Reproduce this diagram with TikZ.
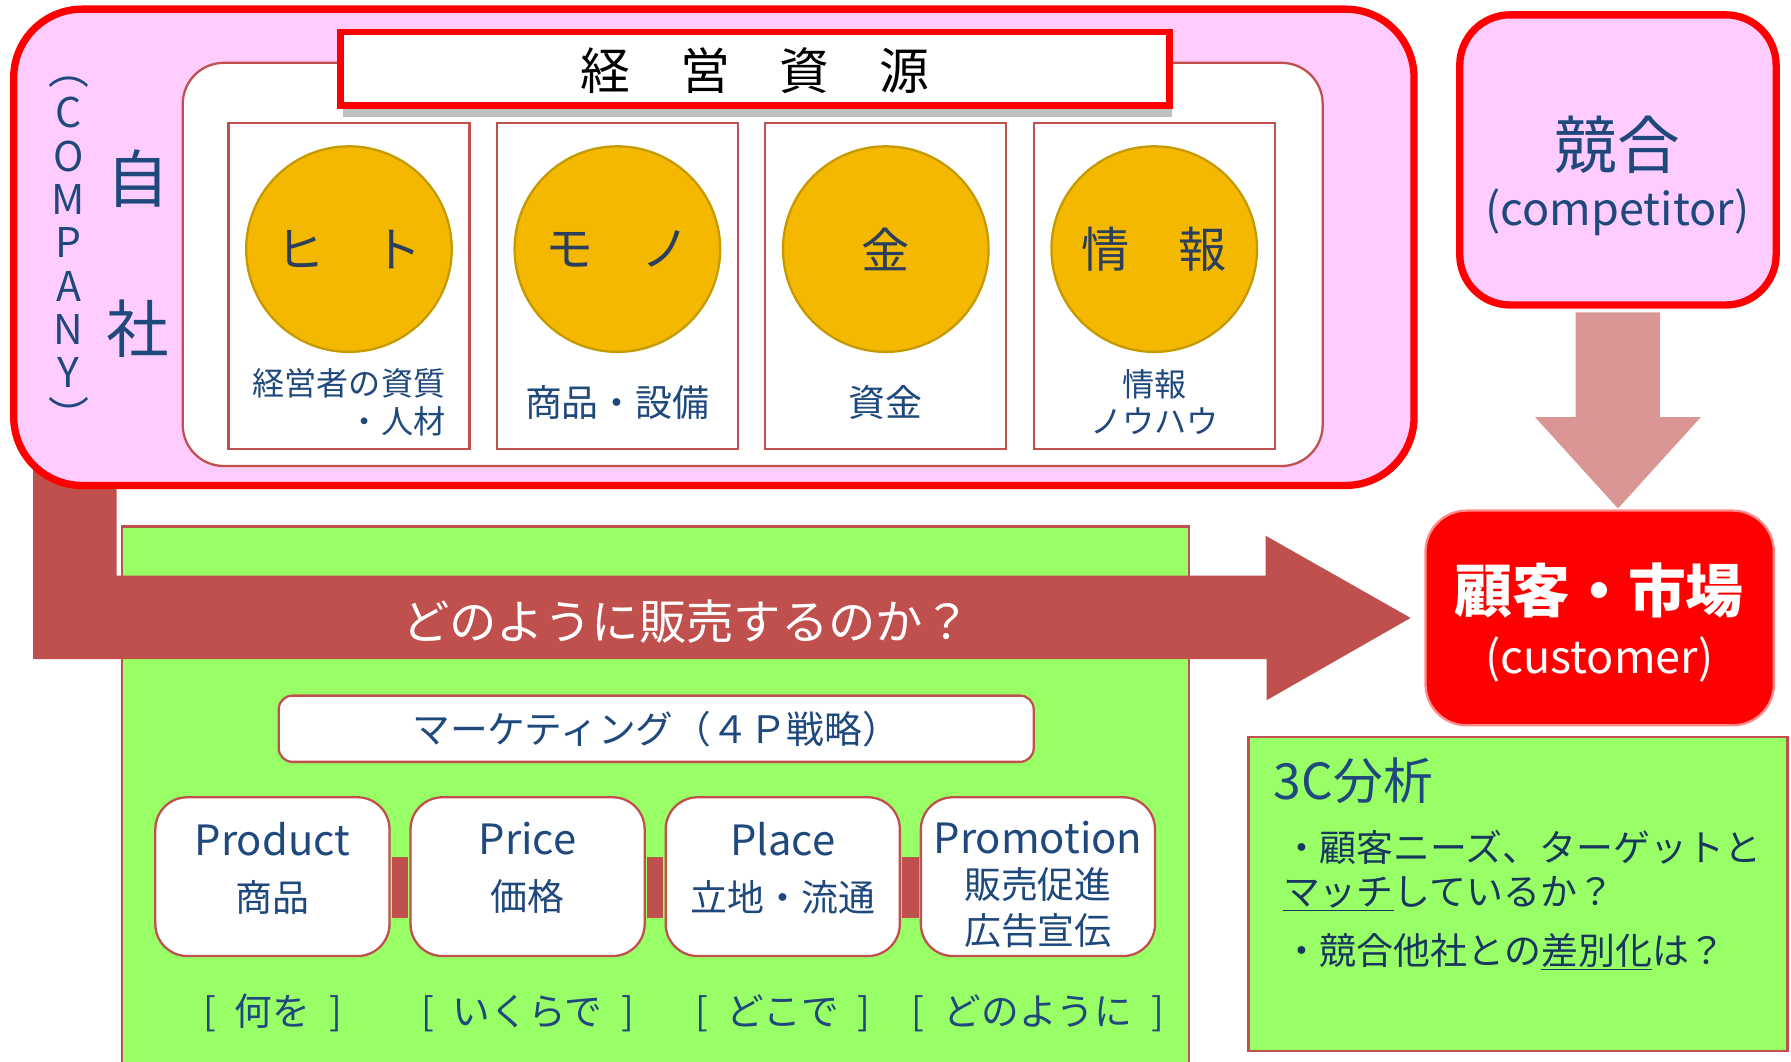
\documentclass[tikz,border=0pt]{standalone}
\usepackage{fontspec}
\setmainfont{Noto Sans CJK JP}
\usetikzlibrary{positioning, shadows, fit}

\definecolor{pinkfill}{HTML}{FFCCFF}
\definecolor{brick}{HTML}{C0504D}
\definecolor{leaf}{HTML}{99FF66}
\definecolor{textblue}{HTML}{1F497D}
\definecolor{darkink}{HTML}{17375E}
\definecolor{coinfill}{HTML}{F4B800}
\definecolor{coinedge}{HTML}{C49A00}
\definecolor{coinink}{HTML}{2B3F5C}
\definecolor{rosy}{HTML}{D99694}

\newcommand{\enword}[1]{{\fontsize{26}{35}\selectfont #1}}

\begin{document}
\begin{tikzpicture}[x=0.25mm, y=-0.25mm,
    redframe/.style={draw=red, line width=1.6mm},
    thinframe/.style={draw=brick, line width=0.5mm},
    bigchar/.style={text=textblue, font=\fontsize{39}{39}\selectfont},
    resbox/.style={rectangle, thinframe, fill=white, minimum width=52.75mm, minimum height=71.25mm},
    coin/.style={circle, fill=coinfill, draw=coinedge, line width=0.5mm, minimum size=45mm, text=coinink, font=\fontsize{30}{30}\selectfont},
    note/.style={text=textblue, align=center, font=\fontsize{23}{23.5}\selectfont},
    pbox/.style={rectangle, rounded corners=7mm, thinframe, fill=white, minimum width=51.25mm, minimum height=34.75mm},
    ptext/.style={text=textblue, align=center, font=\fontsize{23}{35}\selectfont},
    tag/.style={text=textblue, font=\fontsize{23.5}{28}\selectfont},
    bar/.style={brick, line width=13.25mm, shorten <=0.25mm, shorten >=0.25mm},
    bullet/.style={anchor=base west, inner sep=0, text=darkink, font=\fontsize{23}{28}\selectfont}]

  \useasboundingbox (0,0) rectangle (1568,929);

  % Customer and competitor
  \node[fit={(1248,447) (1553,635)}, inner sep=0, rectangle, rounded corners=9mm, fill=red, draw=white!55!red, line width=0.5mm] (customer) {};
  \node[text=white, font=\fontsize{36}{36}\selectfont\bfseries] (customer name) at (1400,517) {顧客・市場};
  \node[text=white, font=\fontsize{28}{28}\selectfont] (customer en) at (1400,577) {(customer)};

  \node[fit={(1278,13) (1555,267)}, inner sep=0, rectangle, rounded corners=11mm, fill=pinkfill, redframe] (competitor) {};
  \node[bigchar] (rival name) at (1416,127) {競合};
  \node[text=textblue, font=\fontsize{28}{28}\selectfont] (rival en) at (1416,186) {(competitor)};

  % arrow competitor -> customer
  \fill[rosy] ([xshift=-9.25mm, yshift=-0.8mm]competitor.south) -- ++(0,91.8) -- ++(-35.5,0) -- ++(72.5,80) -- ++(72.5,-80) -- ++(-35.5,0) -- ++(0,-91.8) -- cycle;

  % Marketing area and 3C
  \node[fit={(107,461) (1041,945)}, inner sep=0, rectangle, fill=leaf, thinframe] (market) {};
  \node[fit={(1093,645) (1565,920)}, inner sep=0, rectangle, fill=leaf, thinframe] (analysis) {};

  % big arrow company -> customer
  \coordinate (sell start) at (66,400);
  \coordinate (sell tip) at ([xshift=-3mm]customer.west);
  \fill[brick] ([xshift=-9.25mm]sell start) -- ++(0,177) -- ++(1080,0) -- ++(0,36) -- (sell tip) -- ++(-127,-72) -- ++(0,35) -- ++(-1006,0) -- ++(0,-104) -- cycle;
  \node[text=white, font=\fontsize{29.5}{29.5}\selectfont] (how sell) at (601,544) {どのように販売するのか？};

  % Company
  \node[fit={(12,8) (1238,425)}, inner sep=0, rectangle, rounded corners=15mm, fill=pinkfill, redframe] (company) {};
  \node[fit={(160,55) (1158,408)}, inner sep=0, rectangle, rounded corners=9mm, fill=white, thinframe] (resources) {};
  \node[fit={(298,28) (1024,92)}, inner sep=0, rectangle, fill=white, draw=red, line width=1.5mm,
        drop shadow={shadow xshift=0.6mm, shadow yshift=-2.6mm, fill=black!25, opacity=1}] (title frame) {};
  \node[font=\fontsize{31}{31}\selectfont] (title) at ([yshift=-0.4mm]title frame.center) {経　営　資　源};

  \node[bigchar] (ji) at (121,156) {自};
  \node[bigchar] (sha) at (121,288) {社};
  \node[anchor=north, inner sep=0, text=textblue, align=center, font=\fontsize{25.5}{27}\selectfont] (company en) at (60,67) {︵\\C\\O\\M\\P\\A\\N\\Y\\︶};

  \node[resbox] (hito box) at (305.5,250.5) {};
  \node[resbox, right=5.5mm of hito box] (mono box) {};
  \node[resbox, right=5.5mm of mono box] (kane box) {};
  \node[resbox, right=5.5mm of kane box] (joho box) {};

  \node[coin] (hito) at ([yshift=8.1mm]hito box.center) {ヒ　ト};
  \node[coin] (mono) at ([yshift=8.1mm]mono box.center) {モ　ノ};
  \node[coin] (kane) at ([yshift=8.1mm]kane box.center) {金};
  \node[coin] (joho) at ([yshift=8.1mm]joho box.center) {情　報};

  \node[note, align=right, font=\fontsize{20}{23.5}\selectfont] (hito note) at ([yshift=-25.4mm]hito box.center) {経営者の資質\\・人材};
  \node[note] (mono note) at ([yshift=-25.4mm]mono box.center) {商品・設備};
  \node[note] (kane note) at ([yshift=-25.4mm]kane box.center) {資金};
  \node[note, font=\fontsize{20}{23.5}\selectfont] (joho note) at ([yshift=-25.4mm]joho box.center) {情報\\ノウハウ};

  % 4P
  \node[fit={(244,609) (905,667)}, inner sep=0, rectangle, rounded corners=3mm, fill=white, thinframe] (marketing) {};
  \node[text=textblue, font=\fontsize{23.5}{23.5}\selectfont] (marketing text) at (marketing.center) {マーケティング（４Ｐ戦略）};

  \node[pbox] (product) at (238.5,767.5) {};
  \node[pbox, right=4.1mm of product] (price) {};
  \node[pbox, right=4.1mm of price] (place) {};
  \node[pbox, right=4.1mm of place] (promotion) {};

  \node[ptext] (product text) at ([yshift=1.9mm]product.center) {\enword{Product}\\商品};
  \node[ptext] (price text) at ([yshift=1.9mm]price.center) {\enword{Price}\\価格};
  \node[ptext] (place text) at ([yshift=1.9mm]place.center) {\enword{Place}\\立地・流通};
  \node[ptext, font=\fontsize{23}{28.5}\selectfont] (promotion text) at ([yshift=-1.7mm]promotion.center) {\enword{Promotion}\\販売促進\\広告宣伝};

  \draw[bar] ([yshift=-2.4mm]product.east) -- ([yshift=-2.4mm]price.west);
  \draw[bar] ([yshift=-2.4mm]price.east) -- ([yshift=-2.4mm]place.west);
  \draw[bar] ([yshift=-2.4mm]place.east) -- ([yshift=-2.4mm]promotion.west);

  \node[tag] (what) at ([yshift=-12.25mm]product.south) {[\enspace 何を\enspace ]};
  \node[tag] (how much) at ([yshift=-12.25mm]price.south) {[\enspace いくらで\enspace ]};
  \node[tag] (where) at ([yshift=-12.25mm]place.south) {[\enspace どこで\enspace ]};
  \node[tag] (how) at ([yshift=-12.25mm]promotion.south) {[\enspace どのように\enspace ]};

  % 3C text
  \node[anchor=base west, inner sep=0, text=textblue, font=\fontsize{31}{31}\selectfont] (analysis title) at (1115,700) {3C分析};
  \node[bullet] (needs) at (1123,754) {・顧客ニーズ、ターゲットと};
  \node[bullet] (match) at (1123,793) {\underline{マッチ}しているか？};
  \node[bullet] (rivals) at (1123,844) {・競合他社との\underline{差別化}は？};
\end{tikzpicture}
\end{document}
